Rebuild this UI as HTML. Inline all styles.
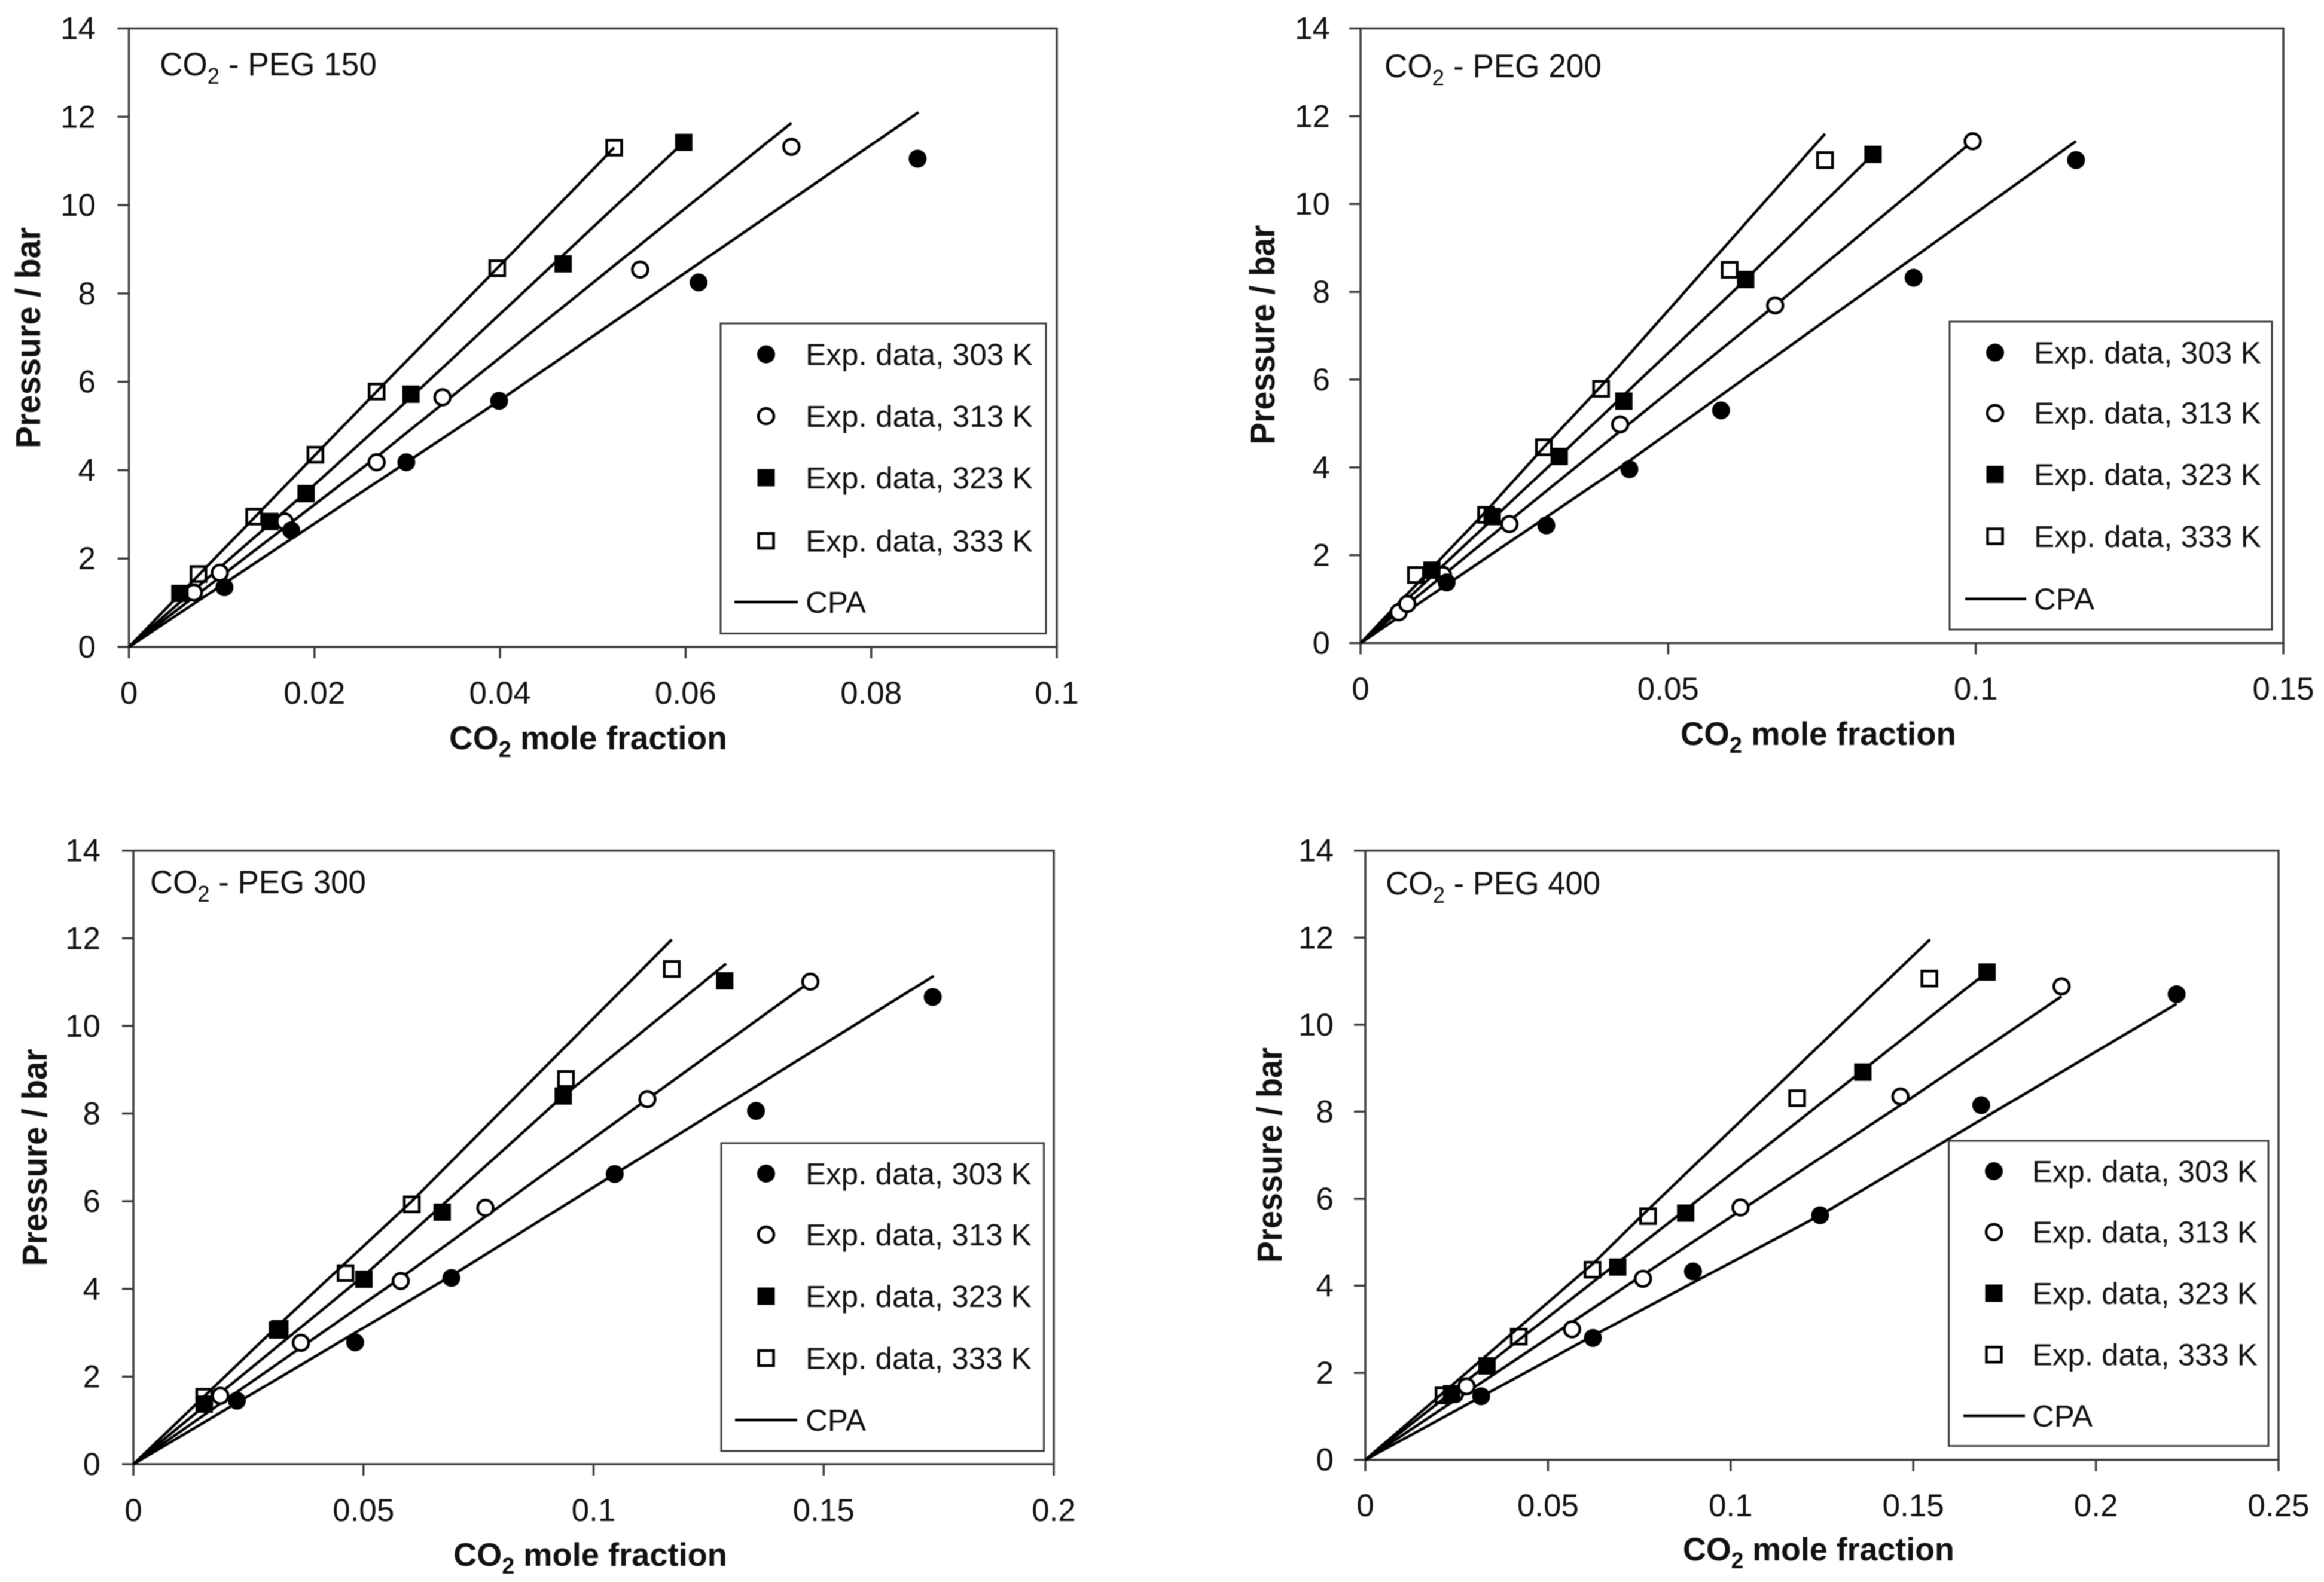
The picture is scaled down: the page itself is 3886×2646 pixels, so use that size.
<!DOCTYPE html>
<html lang="en">
<head>
<meta charset="utf-8">
<title>CO2 solubility in PEG: pressure vs mole fraction</title>
<style>
  html, body { margin: 0; padding: 0; background: #fff; }
  svg { display: block; filter: blur(0.8px); }
  text { font-family: "Liberation Sans", sans-serif; fill: #111; white-space: pre; }
</style>
</head>
<body>
<svg id="figure" xmlns="http://www.w3.org/2000/svg" width="3886" height="2646" viewBox="0 0 3886 2646">
  <rect x="0" y="0" width="3886" height="2646" fill="#fff"></rect>
</svg>
<script>
// ---------- shared tick labels ----------
const yTickLabels = ["0","2","4","6","8","10","12","14"];
const legendLabels = ["Exp. data, 303 K","Exp. data, 313 K","Exp. data, 323 K","Exp. data, 333 K"];
const lineLegendLabel = "CPA";
const seriesKeys = ["303","313","323","333"];

// ---------- PEG 150 ----------
const peg150XTicks = ["0","0.02","0.04","0.06","0.08","0.1"];
const peg150Exp303X = [0.0103,0.0175,0.0299,0.0399,0.0614,0.0850];
const peg150Exp303P = [1.35,2.64,4.18,5.57,8.25,11.05];
const peg150Exp313X = [0.0070,0.0098,0.0168,0.0267,0.0338,0.0551,0.0714];
const peg150Exp313P = [1.23,1.68,2.84,4.18,5.65,8.54,11.32];
const peg150Exp323X = [0.0055,0.0152,0.0191,0.0304,0.0468,0.0598];
const peg150Exp323P = [1.21,2.84,3.47,5.72,8.67,11.42];
const peg150Exp333X = [0.0075,0.0135,0.0201,0.0267,0.0397,0.0523];
const peg150Exp333P = [1.65,2.95,4.35,5.78,8.57,11.30];
const peg150Cpa303X = [0,0.0399,0.0851];
const peg150Cpa303P = [0,5.57,12.10];
const peg150Cpa313X = [0,0.0267,0.0714];
const peg150Cpa313P = [0,4.30,11.86];
const peg150Cpa323X = [0,0.0191,0.0304,0.0598];
const peg150Cpa323P = [0,3.50,5.65,11.42];
const peg150Cpa333X = [0,0.0267,0.0397,0.0523];
const peg150Cpa333P = [0,5.78,8.57,11.30];

// ---------- PEG 200 ----------
const peg200XTicks = ["0","0.05","0.1","0.15"];
const peg200Exp303X = [0.0140,0.0302,0.0437,0.0586,0.0899,0.1163];
const peg200Exp303P = [1.38,2.68,3.96,5.30,8.32,11.00];
const peg200Exp313X = [0.0062,0.0076,0.0134,0.0242,0.0422,0.0674,0.0995];
const peg200Exp313P = [0.70,0.89,1.55,2.71,4.98,7.69,11.43];
const peg200Exp323X = [0.0116,0.0214,0.0323,0.0428,0.0626,0.0833];
const peg200Exp323P = [1.66,2.88,4.25,5.51,8.28,11.13];
const peg200Exp333X = [0.0090,0.0204,0.0298,0.0391,0.0600,0.0755];
const peg200Exp333P = [1.55,2.92,4.46,5.79,8.50,11.00];
const peg200Cpa303X = [0,0.0437,0.0899,0.1163];
const peg200Cpa303P = [0,4.15,8.78,11.43];
const peg200Cpa313X = [0,0.0242,0.0674,0.0995];
const peg200Cpa313P = [0,2.78,7.69,11.43];
const peg200Cpa323X = [0,0.0323,0.0626,0.0833];
const peg200Cpa323P = [0,4.25,8.28,11.13];
const peg200Cpa333X = [0,0.0204,0.0298,0.0391,0.0755];
const peg200Cpa333P = [0,3.00,4.46,5.85,11.60];

// ---------- PEG 300 ----------
const peg300XTicks = ["0","0.05","0.1","0.15","0.2"];
const peg300Exp303X = [0.0225,0.0482,0.0691,0.1046,0.1353,0.1737];
const peg300Exp303P = [1.45,2.78,4.25,6.62,8.06,10.66];
const peg300Exp313X = [0.0189,0.0364,0.0581,0.0765,0.1117,0.1471];
const peg300Exp313P = [1.56,2.77,4.18,5.85,8.33,11.01];
const peg300Exp323X = [0.0154,0.0313,0.0501,0.0671,0.0934,0.1285];
const peg300Exp323P = [1.37,3.06,4.22,5.75,8.40,11.03];
const peg300Exp333X = [0.0154,0.0318,0.0461,0.0605,0.0940,0.1170];
const peg300Exp333P = [1.54,3.09,4.36,5.93,8.79,11.30];
const peg300Cpa303X = [0,0.0691,0.1046,0.1739];
const peg300Cpa303P = [0,4.30,6.62,11.14];
const peg300Cpa313X = [0,0.0581,0.1117,0.1471];
const peg300Cpa313P = [0,4.25,8.33,11.01];
const peg300Cpa323X = [0,0.0501,0.0934,0.1288];
const peg300Cpa323P = [0,4.30,8.40,11.42];
const peg300Cpa333X = [0,0.0313,0.0605,0.1170];
const peg300Cpa333P = [0,3.15,6.00,11.97];

// ---------- PEG 400 ----------
const peg400XTicks = ["0","0.05","0.1","0.15","0.2","0.25"];
const peg400Exp303X = [0.0317,0.0623,0.0897,0.1245,0.1686,0.2221];
const peg400Exp303P = [1.46,2.80,4.33,5.62,8.15,10.70];
const peg400Exp313X = [0.0245,0.0277,0.0566,0.0760,0.1027,0.1465,0.1906];
const peg400Exp313P = [1.51,1.69,3.00,4.16,5.80,8.35,10.88];
const peg400Exp323X = [0.0236,0.0333,0.0691,0.0877,0.1362,0.1702];
const peg400Exp323P = [1.52,2.16,4.43,5.67,8.91,11.21];
const peg400Exp333X = [0.0214,0.0420,0.0622,0.0774,0.1182,0.1544];
const peg400Exp333P = [1.48,2.83,4.37,5.60,8.31,11.06];
const peg400Cpa303X = [0,0.0623,0.1245,0.2221];
const peg400Cpa303P = [0,2.85,5.62,10.48];
const peg400Cpa313X = [0,0.0760,0.1465,0.1906];
const peg400Cpa313P = [0,4.25,8.15,10.65];
const peg400Cpa323X = [0,0.0877,0.1362,0.1702];
const peg400Cpa323P = [0,5.75,8.95,11.21];
const peg400Cpa333X = [0,0.0622,0.0774,0.1546];
const peg400Cpa333P = [0,4.50,5.75,11.96];

// ---------- panel layout ----------
const panels = [
  { id:"peg-150", sub:" - PEG 150", xTicks:peg150XTicks,
    exp:[[peg150Exp303X,peg150Exp303P],[peg150Exp313X,peg150Exp313P],[peg150Exp323X,peg150Exp323P],[peg150Exp333X,peg150Exp333P]],
    cpa:[[peg150Cpa303X,peg150Cpa303P],[peg150Cpa313X,peg150Cpa313P],[peg150Cpa323X,peg150Cpa323P],[peg150Cpa333X,peg150Cpa333P]],
    box:{l:215.5,r:1767,t:47.5,b:1082}, xLabelY:1177, yLabelX:160,
    title:{x:267,y:126,w:363}, yTitle:{x:67,cy:565,w:370}, xTitle:{x:751,y:1253,w:465},
    legend:{l:1205,r:1749,t:541,b:1059.5,mx:1281,tx:1347,tw:380,ly1:1228,ly2:1334,rows:[592.6,696,799,904.5,1007]} },
  { id:"peg-200", sub:" - PEG 200", xTicks:peg200XTicks,
    exp:[[peg200Exp303X,peg200Exp303P],[peg200Exp313X,peg200Exp313P],[peg200Exp323X,peg200Exp323P],[peg200Exp333X,peg200Exp333P]],
    cpa:[[peg200Cpa303X,peg200Cpa303P],[peg200Cpa313X,peg200Cpa313P],[peg200Cpa323X,peg200Cpa323P],[peg200Cpa333X,peg200Cpa333P]],
    box:{l:2275,r:3818,t:47.5,b:1075.5}, xLabelY:1170, yLabelX:2224,
    title:{x:2315,y:129,w:363}, yTitle:{x:2131,cy:560,w:367}, xTitle:{x:2810,y:1246,w:461},
    legend:{l:3260,r:3799,t:538,b:1053,mx:3336,tx:3401,tw:380,ly1:3286,ly2:3388,rows:[589.6,690.7,793.5,897,1001.7]} },
  { id:"peg-300", sub:" - PEG 300", xTicks:peg300XTicks,
    exp:[[peg300Exp303X,peg300Exp303P],[peg300Exp313X,peg300Exp313P],[peg300Exp323X,peg300Exp323P],[peg300Exp333X,peg300Exp333P]],
    cpa:[[peg300Cpa303X,peg300Cpa303P],[peg300Cpa313X,peg300Cpa313P],[peg300Cpa323X,peg300Cpa323P],[peg300Cpa333X,peg300Cpa333P]],
    box:{l:223,r:1762,t:1422.7,b:2449}, xLabelY:2544, yLabelX:168,
    title:{x:251,y:1494,w:361}, yTitle:{x:78,cy:1936,w:363}, xTitle:{x:758,y:2619,w:458},
    legend:{l:1206,r:1745.5,t:1912,b:2427,mx:1281,tx:1347,tw:378,ly1:1229,ly2:1333,rows:[1963,2065,2168,2271.5,2375]} },
  { id:"peg-400", sub:" - PEG 400", xTicks:peg400XTicks,
    exp:[[peg400Exp303X,peg400Exp303P],[peg400Exp313X,peg400Exp313P],[peg400Exp323X,peg400Exp323P],[peg400Exp333X,peg400Exp333P]],
    cpa:[[peg400Cpa303X,peg400Cpa303P],[peg400Cpa313X,peg400Cpa313P],[peg400Cpa323X,peg400Cpa323P],[peg400Cpa333X,peg400Cpa333P]],
    box:{l:2283,r:3810,t:1422.7,b:2441.7}, xLabelY:2536, yLabelX:2230,
    title:{x:2317,y:1496,w:359}, yTitle:{x:2143,cy:1932,w:360}, xTitle:{x:2814,y:2610,w:454},
    legend:{l:3258.6,r:3793,t:1908,b:2418.6,mx:3334,tx:3398,tw:377,ly1:3283,ly2:3386,rows:[1959,2060.7,2163,2265.7,2368]} }
];

// Stacking order of the experimental series: 333 K, 313 K, 303 K, 323 K.
const markerStack = [3,1,0,2];

const NS = "http://www.w3.org/2000/svg";
const root = document.getElementById("figure");
const AXIS = "#3c3c3c";

function svgEl(parent, type, attrs) {
  const el = document.createElementNS(NS, type);
  for (const k in attrs) el.setAttribute(k, attrs[k]);
  parent.appendChild(el);
  return el;
}

// Squeeze a label horizontally to the measured target width.
function fitWidth(el, x, y, w) {
  const len = el.getComputedTextLength();
  el.setAttribute("x", 0);
  el.setAttribute("y", 0);
  el.setAttribute("transform", "translate(" + x + "," + y + ") scale(" + (w / len) + ",1)");
}

function addSubscriptLabel(t, subSize, drop, after) {
  const a = svgEl(t, "tspan", {});
  a.textContent = "CO";
  const b = svgEl(t, "tspan", { dy: drop, "font-size": subSize });
  b.textContent = "2";
  const c = svgEl(t, "tspan", { dy: -drop });
  c.textContent = after;
}

function drawMarker(g, kind, cx, cy) {
  const R = 15, S = 14.5;
  let el;
  if (kind === "303") el = svgEl(g, "circle", { cx: cx, cy: cy, r: R, fill: "#000" });
  if (kind === "313") el = svgEl(g, "circle", { cx: cx, cy: cy, r: R - 2, fill: "#fff", stroke: "#000", "stroke-width": 4.5 });
  if (kind === "323") el = svgEl(g, "rect", { x: cx - S, y: cy - S, width: 2 * S, height: 2 * S, fill: "#000" });
  if (kind === "333") el = svgEl(g, "rect", { x: cx - S + 2, y: cy - S + 2, width: 2 * S - 4, height: 2 * S - 4, fill: "none", stroke: "#000", "stroke-width": 4.5 });
  return el;
}

panels.forEach(function (p) {
  const box = p.box;
  const xMax = parseFloat(p.xTicks[p.xTicks.length - 1]);
  const yMax = parseFloat(yTickLabels[yTickLabels.length - 1]);
  const xScale = function (v) { return box.l + (v / xMax) * (box.r - box.l); };
  const yScale = function (v) { return box.b - (v / yMax) * (box.b - box.t); };

  const g = svgEl(root, "g", {});
  
  

  const frame = svgEl(g, "rect", { x: box.l, y: box.t, width: box.r - box.l, height: box.b - box.t, fill: "none", stroke: AXIS, "stroke-width": 3.5 });
  
  

  yTickLabels.forEach(function (lab) {
    const y = yScale(parseFloat(lab));
    const tick = svgEl(g, "line", { x1: box.l - 19, x2: box.l, y1: y, y2: y, stroke: AXIS, "stroke-width": 3.5 });
    
    
    const t = svgEl(g, "text", { x: p.yLabelX, y: y + 18, "font-size": 53, "text-anchor": "end" });
    
    
    t.textContent = lab;
  });

  p.xTicks.forEach(function (lab) {
    const x = xScale(parseFloat(lab));
    const tick = svgEl(g, "line", { x1: x, x2: x, y1: box.b, y2: box.b + 19, stroke: AXIS, "stroke-width": 3.5 });
    
    
    const t = svgEl(g, "text", { x: x, y: p.xLabelY, "font-size": 53, "text-anchor": "middle" });
    
    
    t.textContent = lab;
  });

  p.cpa.forEach(function (s, i) {
    const pts = s[0].map(function (v, j) { return xScale(v).toFixed(1) + "," + yScale(s[1][j]).toFixed(1); }).join(" ");
    const line = svgEl(g, "polyline", { points: pts, fill: "none", stroke: "#000", "stroke-width": 4.5, "stroke-linejoin": "round" });
    
    
  });

  markerStack.forEach(function (i) {
    const s = p.exp[i];
    s[0].forEach(function (v, j) {
      const m = drawMarker(g, seriesKeys[i], xScale(v), yScale(s[1][j]));
      
      
    });
  });

  // panel title
  const title = svgEl(g, "text", { "font-size": 55 });
  
  
  addSubscriptLabel(title, 38, 14, p.sub);
  fitWidth(title, p.title.x, p.title.y, p.title.w);

  // x axis title
  const xt = svgEl(g, "text", { "font-size": 55, "font-weight": "bold" });
  
  
  addSubscriptLabel(xt, 38, 13, " mole fraction");
  fitWidth(xt, p.xTitle.x, p.xTitle.y, p.xTitle.w);

  // y axis title
  const yt = svgEl(g, "text", { "font-size": 58, "font-weight": "bold", "text-anchor": "middle" });
  
  
  yt.textContent = "Pressure / bar";
  const ySquash = p.yTitle.w / yt.getComputedTextLength();
  yt.setAttribute("transform", "translate(" + p.yTitle.x + "," + p.yTitle.cy + ") rotate(-90) scale(" + ySquash + ",1)");

  // legend
  const L = p.legend;
  const lg = svgEl(g, "g", {});
  
  
  const lb = svgEl(lg, "rect", { x: L.l, y: L.t, width: L.r - L.l, height: L.b - L.t, fill: "#fff", stroke: AXIS, "stroke-width": 3 });
  
  
  legendLabels.forEach(function (lab, i) {
    const m = drawMarker(lg, seriesKeys[i], L.mx, L.rows[i]);
    
    
    const t = svgEl(lg, "text", { "font-size": 51 });
    
    
    t.textContent = lab;
    fitWidth(t, L.tx, L.rows[i] + 18, L.tw);
  });
  const ll = svgEl(lg, "line", { x1: L.ly1, x2: L.ly2, y1: L.rows[4], y2: L.rows[4], stroke: "#000", "stroke-width": 4.5 });
  
  
  const lt = svgEl(lg, "text", { x: L.tx, y: L.rows[4] + 18, "font-size": 51 });
  
  
  lt.textContent = lineLegendLabel;
});
</script>
</body>
</html>
